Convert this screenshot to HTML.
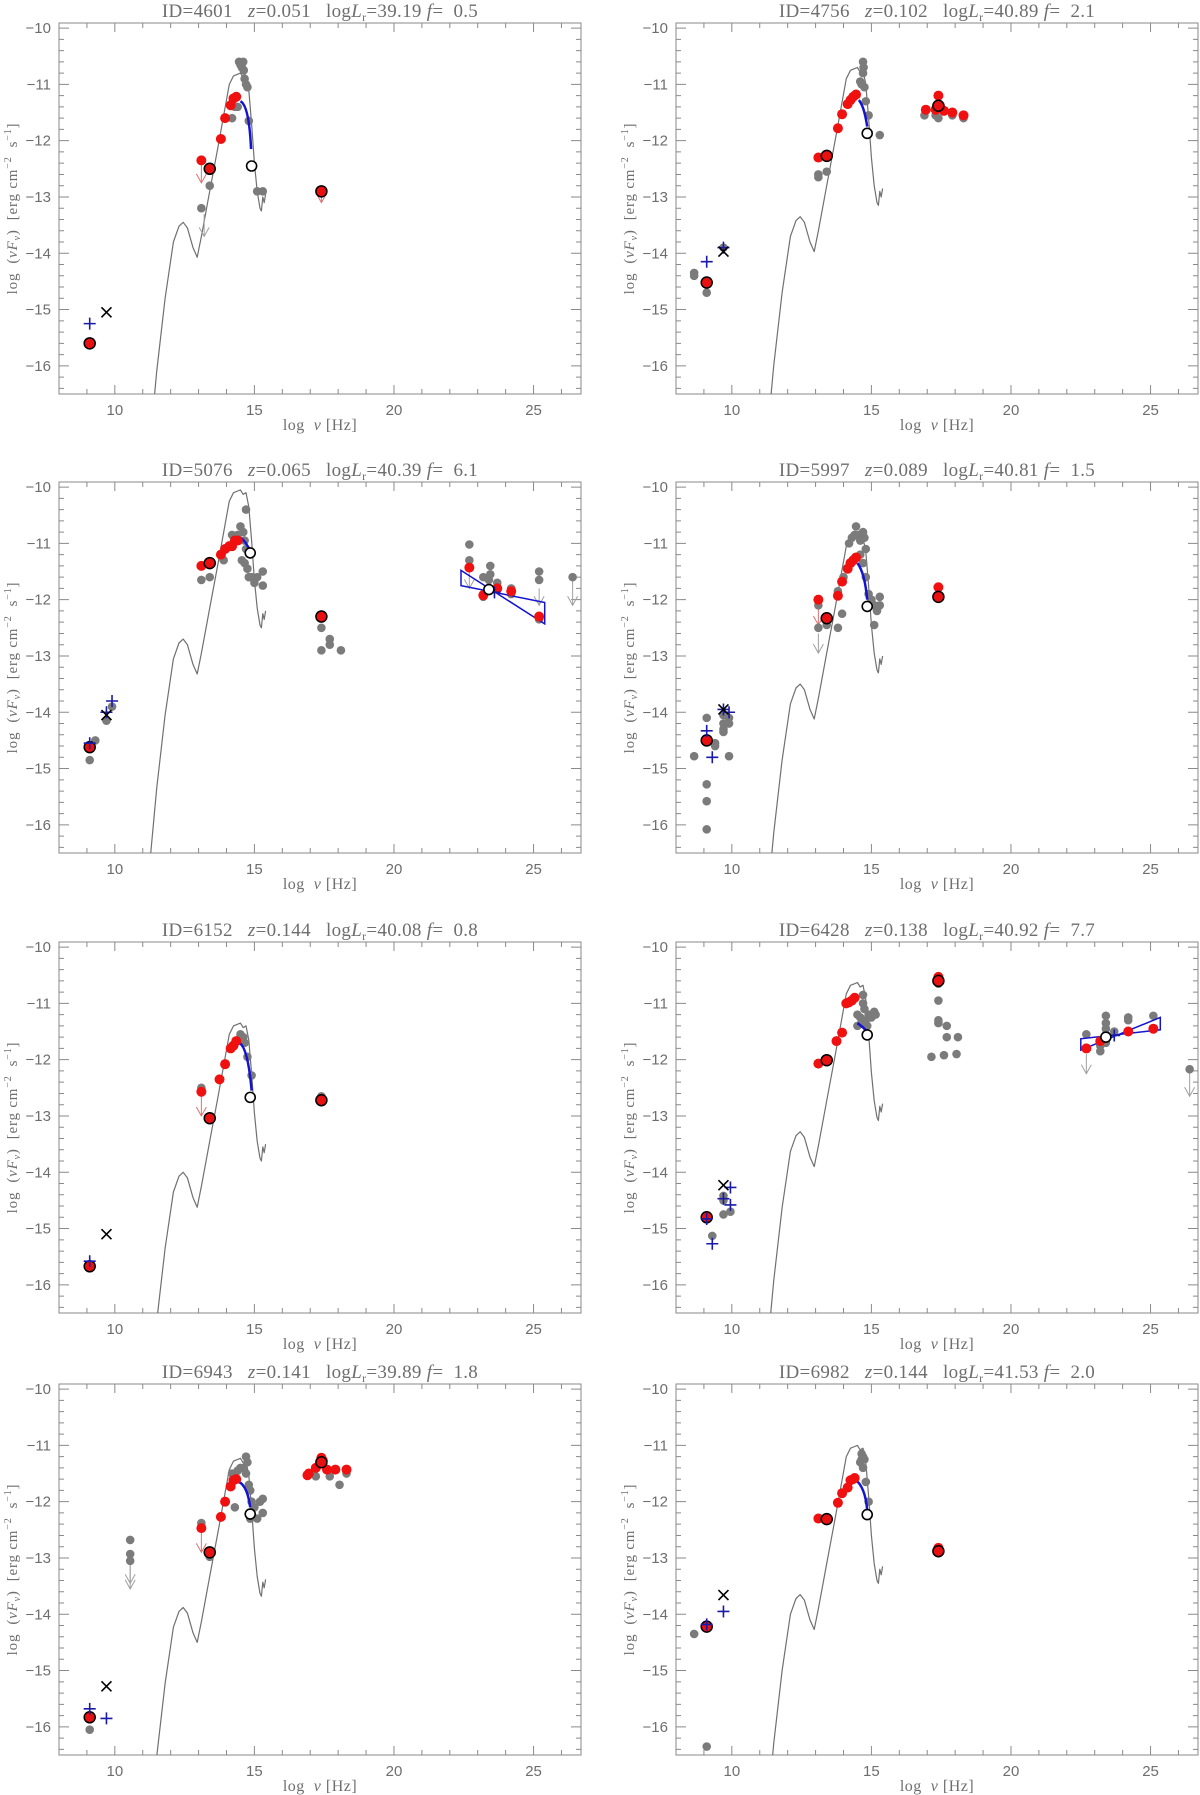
<!DOCTYPE html>
<html>
<head>
<meta charset="utf-8">
<style>
  html,body{margin:0;padding:0;background:#fff;overflow:hidden;}
  svg{display:block;}
  text{font-family:"Liberation Serif","DejaVu Serif",serif;fill:#6e6e6e;}
  text.tick{font-family:"Liberation Sans","DejaVu Sans",sans-serif;}
  text.ttl{white-space:pre;}
</style>
</head>
<body>
<svg id="chart" width="1200" height="1795" viewBox="0 0 1200 1795" xmlns="http://www.w3.org/2000/svg"></svg>
<script>
// ---------- shared axis data ----------
const xTickValues = [10, 15, 20, 25];
const yTickValues = [-10, -11, -12, -13, -14, -15, -16];
const XMIN = 8, XMAX = 26.7, YMIN = -16.5, YMAX = -9.91;

// template (galaxy) curve, relative to its peak value
const templateX = [11.0,11.5,11.8,12.1,12.3,12.45,12.6,12.8,12.95,13.1,13.4,13.7,13.9,14.1,14.25,14.4,14.5,14.6,14.7,14.8,14.9,15.0,15.1,15.2,15.25,15.3,15.35,15.4];
const templateRel = [-8,-5.3,-4.0,-3.0,-2.72,-2.65,-2.75,-3.1,-3.27,-2.9,-2.1,-1.3,-0.75,-0.2,-0.05,-0.02,0,-0.08,-0.05,-0.3,-0.9,-1.6,-2.1,-2.4,-2.45,-2.2,-2.3,-2.15];

// ---------- panel 1: ID 4601 ----------
const p1Peak = -10.8;
const p1Gray = [[14.45,-10.6],[14.5,-10.65],[14.55,-10.7],[14.6,-10.6],[14.62,-10.75],[14.65,-10.9],[14.7,-11.0],[14.75,-11.05],[14.8,-11.65],[14.3,-11.4],[14.4,-11.4],[14.2,-11.6],[15.3,-12.9],[13.4,-12.8],[13.1,-13.2],[15.1,-12.9]];
const p1Red = [[13.1,-12.35],[13.8,-11.97],[13.95,-11.6],[14.15,-11.37],[14.25,-11.25],[14.35,-11.22]];
const p1RedOut = [[9.1,-15.6],[13.4,-12.5],[17.4,-12.9]];
const p1Cross = [[9.1,-15.25]];
const p1X = [[9.7,-15.05]];
const p1Open = [[14.9,-12.45]];
const p1Blue = [[14.5,-11.3],[14.75,-11.55],[14.88,-12.15]];
const p1ArrowsRed = [[13.1,-12.4,-12.75],[17.4,-12.95,-13.1]];
const p1ArrowsGray = [[13.2,-13.3,-13.7]];
const p1Bowtie = [];

// ---------- panel 2: ID 4756 ----------
const p2Peak = -10.7;
const p2Gray = [[8.65,-14.35],[8.65,-14.4],[9.1,-14.7],[9.7,-13.9],[14.7,-10.6],[14.72,-10.7],[14.7,-10.8],[14.6,-10.95],[14.65,-11.0],[14.75,-11.05],[14.8,-11.3],[14.9,-11.55],[15.3,-11.9],[13.1,-12.6],[13.1,-12.65],[13.4,-12.55],[16.9,-11.55],[17.3,-11.55],[17.4,-11.6],[17.9,-11.55],[18.3,-11.6]];
const p2Red = [[13.1,-12.3],[13.8,-11.78],[13.95,-11.53],[14.15,-11.35],[14.25,-11.28],[14.35,-11.22],[14.45,-11.18],[16.95,-11.45],[17.3,-11.45],[17.4,-11.2],[17.45,-11.38],[17.6,-11.47],[17.9,-11.5],[18.3,-11.55],[17.35,-11.4]];
const p2RedOut = [[9.1,-14.52],[13.4,-12.27],[17.4,-11.38]];
const p2Cross = [[9.1,-14.15],[9.7,-13.9]];
const p2X = [[9.7,-13.97]];
const p2Open = [[14.85,-11.87]];
const p2Blue = [[14.55,-11.28],[14.72,-11.45],[14.85,-11.75]];
const p2ArrowsRed = [];
const p2ArrowsGray = [];
const p2Bowtie = [];

// ---------- panel 3: ID 5076 ----------
const p3Peak = -10.05;
const p3Gray = [[14.7,-10.4],[14.5,-10.7],[14.6,-10.8],[14.4,-10.85],[14.3,-10.9],[14.2,-10.85],[14.65,-10.95],[14.7,-11.1],[14.55,-11.3],[14.65,-11.35],[14.75,-11.45],[14.8,-11.6],[14.9,-11.6],[15.0,-11.7],[15.1,-11.6],[15.3,-11.5],[15.3,-11.75],[13.1,-11.65],[13.4,-11.6],[13.9,-11.3],[17.4,-12.5],[17.4,-12.9],[17.7,-12.7],[17.7,-12.8],[18.1,-12.9],[9.1,-14.85],[9.3,-14.5],[9.7,-14.15],[9.9,-13.9],[22.7,-11.02],[22.7,-11.3],[23.2,-11.95],[23.2,-11.6],[23.45,-11.4],[23.45,-11.55],[23.4,-11.65],[23.7,-11.7],[24.2,-11.8],[24.2,-11.9],[25.2,-11.5],[25.2,-11.65],[25.2,-12.35],[26.4,-11.6]];
const p3Red = [[13.1,-11.4],[13.8,-11.2],[13.95,-11.1],[14.1,-11.05],[14.2,-11.05],[14.3,-10.95],[14.4,-10.95],[22.7,-11.43],[23.2,-11.92],[23.7,-11.8],[24.2,-11.85],[25.2,-12.3]];
const p3RedOut = [[9.1,-14.62],[13.4,-11.35],[17.4,-12.3]];
const p3Cross = [[9.1,-14.55],[9.7,-14.0],[9.9,-13.8],[23.6,-11.87]];
const p3X = [[9.7,-14.05]];
const p3Open = [[14.85,-11.17],[23.4,-11.82]];
const p3Blue = [[14.5,-10.9],[14.7,-11.0],[14.85,-11.15]];
const p3ArrowsRed = [];
const p3ArrowsGray = [[26.4,-11.65,-12.1],[25.2,-11.8,-12.1],[22.7,-11.5,-11.8]];
const p3Bowtie = [[22.4,-11.48],[25.4,-12.43],[25.4,-12.05],[22.4,-11.75]];

// ---------- panel 4: ID 5997 ----------
const p4Peak = -10.85;
const p4Gray = [[8.65,-14.78],[9.1,-14.1],[9.1,-15.28],[9.1,-15.58],[9.1,-16.08],[9.4,-14.6],[9.4,-14.55],[9.7,-14.05],[9.7,-14.2],[9.7,-14.3],[9.7,-14.35],[9.9,-14.1],[9.9,-14.2],[9.9,-14.78],[13.1,-12.1],[13.1,-12.5],[13.4,-12.45],[13.8,-12.5],[13.8,-11.85],[14.0,-11.6],[13.95,-12.25],[14.2,-11.0],[14.3,-10.9],[14.4,-10.85],[14.45,-10.7],[14.55,-10.85],[14.6,-10.95],[14.7,-10.8],[14.75,-10.9],[14.8,-11.1],[14.6,-11.2],[14.7,-11.35],[14.8,-11.6],[14.9,-11.9],[15.0,-12.0],[15.1,-12.1],[15.2,-12.2],[15.3,-11.95],[15.3,-12.1],[15.1,-12.45]];
const p4Red = [[13.1,-12.0],[13.8,-11.93],[13.95,-11.68],[14.15,-11.45],[14.25,-11.35],[14.35,-11.3],[14.45,-11.25],[17.4,-11.78]];
const p4RedOut = [[9.1,-14.5],[13.4,-12.33],[17.4,-11.95]];
const p4Cross = [[9.1,-14.33],[9.3,-14.8],[9.7,-13.95],[9.9,-14.0]];
const p4X = [[9.7,-13.95]];
const p4Open = [[14.85,-12.12]];
const p4Blue = [[14.5,-11.35],[14.72,-11.6],[14.85,-12.0]];
const p4ArrowsRed = [[13.1,-12.05,-12.45]];
const p4ArrowsGray = [[13.1,-12.6,-12.95]];
const p4Bowtie = [];

// ---------- panel 5: ID 6152 ----------
const p5Peak = -11.35;
const p5Gray = [[14.5,-11.55],[14.6,-11.6],[14.65,-11.7],[14.75,-11.95],[14.9,-12.28],[13.1,-12.5],[17.4,-12.65]];
const p5Red = [[13.1,-12.57],[13.75,-12.35],[13.95,-12.08],[14.15,-11.8],[14.25,-11.75],[14.35,-11.67]];
const p5RedOut = [[9.1,-15.67],[13.4,-13.04],[17.4,-12.72]];
const p5Cross = [[9.1,-15.58]];
const p5X = [[9.7,-15.1]];
const p5Open = [[14.85,-12.67]];
const p5Blue = [[14.45,-11.7],[14.72,-11.95],[14.9,-12.55]];
const p5ArrowsRed = [[13.1,-12.6,-13.0]];
const p5ArrowsGray = [];
const p5Bowtie = [];

// ---------- panel 6: ID 6428 ----------
const p6Peak = -10.63;
const p6Gray = [[9.3,-15.13],[9.7,-14.42],[9.7,-14.5],[9.7,-14.75],[9.95,-14.7],[14.5,-11.4],[14.5,-11.2],[14.6,-11.25],[14.7,-10.85],[14.7,-11.0],[14.75,-11.1],[14.8,-11.3],[14.85,-11.4],[14.9,-11.2],[15.0,-11.25],[15.1,-11.15],[15.15,-11.2],[14.65,-11.35],[17.4,-10.65],[17.4,-10.95],[17.4,-11.3],[17.4,-11.35],[17.7,-11.4],[17.7,-11.6],[18.1,-11.6],[17.15,-11.95],[17.6,-11.92],[18.05,-11.9],[22.7,-11.55],[23.2,-11.85],[23.2,-11.75],[23.4,-11.22],[23.4,-11.35],[23.4,-11.45],[23.4,-11.55],[23.4,-11.7],[23.7,-11.5],[24.2,-11.25],[24.2,-11.3],[25.1,-11.22],[26.4,-12.17]];
const p6Red = [[13.1,-12.07],[13.75,-11.67],[13.95,-11.52],[14.1,-11.0],[14.2,-10.98],[14.3,-10.95],[14.4,-10.9],[17.4,-10.53],[22.7,-11.8],[23.2,-11.67],[24.2,-11.5],[25.1,-11.45]];
const p6RedOut = [[9.1,-14.8],[13.4,-12.01],[17.4,-10.6]];
const p6Cross = [[9.1,-14.83],[9.3,-15.27],[9.7,-14.47],[9.95,-14.27],[9.95,-14.58],[23.7,-11.57]];
const p6X = [[9.7,-14.23]];
const p6Open = [[14.85,-11.56],[23.4,-11.6]];
const p6Blue = [[14.5,-11.35],[14.68,-11.42],[14.85,-11.5]];
const p6ArrowsRed = [];
const p6ArrowsGray = [[22.7,-11.9,-12.25],[26.4,-12.2,-12.65]];
const p6Bowtie = [[22.5,-11.83],[25.35,-11.25],[25.35,-11.47],[22.5,-11.63]];

// ---------- panel 7: ID 6943 ----------
const p7Peak = -11.23;
const p7Gray = [[9.1,-16.05],[10.55,-12.68],[10.55,-12.93],[10.55,-13.05],[14.2,-11.5],[14.3,-11.55],[14.3,-12.1],[14.4,-11.45],[14.5,-11.4],[14.6,-11.4],[14.7,-11.2],[14.75,-11.3],[14.7,-11.5],[14.8,-11.7],[14.85,-11.8],[14.9,-12.0],[15.0,-12.1],[15.1,-12.3],[15.2,-12.0],[15.3,-11.95],[15.3,-12.2],[14.85,-12.3],[13.1,-12.38],[13.4,-12.98],[17.2,-11.55],[17.7,-11.55],[18.05,-11.7],[18.3,-11.5]];
const p7Red = [[13.1,-12.47],[13.8,-12.27],[13.95,-12.0],[14.15,-11.73],[14.25,-11.62],[14.35,-11.6],[16.9,-11.53],[17.2,-11.4],[17.4,-11.22],[17.45,-11.27],[17.6,-11.43],[17.9,-11.43],[18.3,-11.43],[16.95,-11.5]];
const p7RedOut = [[9.1,-15.83],[13.4,-12.9],[17.4,-11.3]];
const p7Cross = [[9.1,-15.68],[9.7,-15.85]];
const p7X = [[9.7,-15.28]];
const p7Open = [[14.85,-12.22]];
const p7Blue = [[14.45,-11.65],[14.7,-11.8],[14.85,-12.1]];
const p7ArrowsRed = [[13.1,-12.5,-12.9]];
const p7ArrowsGray = [[10.55,-13.1,-13.55],[10.55,-13.05,-13.45]];
const p7Bowtie = [];

// ---------- panel 8: ID 6982 ----------
const p8Peak = -11.0;
const p8Gray = [[8.65,-14.35],[9.1,-16.35],[14.65,-11.15],[14.7,-11.2],[14.75,-11.25],[14.6,-11.3],[14.7,-11.4],[14.8,-11.65],[14.9,-12.0],[14.65,-11.25]];
const p8Red = [[13.1,-12.3],[13.8,-12.02],[13.95,-11.85],[14.15,-11.75],[14.25,-11.62],[14.35,-11.6],[14.4,-11.58],[17.4,-12.82]];
const p8RedOut = [[9.1,-14.22],[13.4,-12.31],[17.4,-12.88]];
const p8Cross = [[9.1,-14.18],[9.7,-13.95]];
const p8X = [[9.7,-13.66]];
const p8Open = [[14.85,-12.23]];
const p8Blue = [[14.4,-11.6],[14.7,-11.8],[14.85,-12.15]];
const p8ArrowsRed = [];
const p8ArrowsGray = [];
const p8Bowtie = [];

// panel titles
const panelIds = ["4601","4756","5076","5997","6152","6428","6943","6982"];
const panelZ = ["0.051","0.102","0.065","0.089","0.144","0.138","0.141","0.144"];
const panelL = ["39.19","40.89","40.39","40.81","40.08","40.92","39.89","41.53"];
const panelF = ["0.5","2.1","6.1","1.5","0.8","7.7","1.8","2.0"];

const panels = [
 {peak:p1Peak,gray:p1Gray,red:p1Red,redOut:p1RedOut,cross:p1Cross,xm:p1X,open:p1Open,blue:p1Blue,ar:p1ArrowsRed,ag:p1ArrowsGray,bow:p1Bowtie},
 {peak:p2Peak,gray:p2Gray,red:p2Red,redOut:p2RedOut,cross:p2Cross,xm:p2X,open:p2Open,blue:p2Blue,ar:p2ArrowsRed,ag:p2ArrowsGray,bow:p2Bowtie},
 {peak:p3Peak,gray:p3Gray,red:p3Red,redOut:p3RedOut,cross:p3Cross,xm:p3X,open:p3Open,blue:p3Blue,ar:p3ArrowsRed,ag:p3ArrowsGray,bow:p3Bowtie},
 {peak:p4Peak,gray:p4Gray,red:p4Red,redOut:p4RedOut,cross:p4Cross,xm:p4X,open:p4Open,blue:p4Blue,ar:p4ArrowsRed,ag:p4ArrowsGray,bow:p4Bowtie},
 {peak:p5Peak,gray:p5Gray,red:p5Red,redOut:p5RedOut,cross:p5Cross,xm:p5X,open:p5Open,blue:p5Blue,ar:p5ArrowsRed,ag:p5ArrowsGray,bow:p5Bowtie},
 {peak:p6Peak,gray:p6Gray,red:p6Red,redOut:p6RedOut,cross:p6Cross,xm:p6X,open:p6Open,blue:p6Blue,ar:p6ArrowsRed,ag:p6ArrowsGray,bow:p6Bowtie},
 {peak:p7Peak,gray:p7Gray,red:p7Red,redOut:p7RedOut,cross:p7Cross,xm:p7X,open:p7Open,blue:p7Blue,ar:p7ArrowsRed,ag:p7ArrowsGray,bow:p7Bowtie},
 {peak:p8Peak,gray:p8Gray,red:p8Red,redOut:p8RedOut,cross:p8Cross,xm:p8X,open:p8Open,blue:p8Blue,ar:p8ArrowsRed,ag:p8ArrowsGray,bow:p8Bowtie}
];

const colLeft = [59, 676];
const rowTop = [23, 482, 942, 1384];
const PW = 522, PH = 371;
const NS = "http://www.w3.org/2000/svg";
const svg = document.getElementById('chart');

function mk(tag, attrs, parent){
  const e = document.createElementNS(NS, tag);
  for (const k in attrs) e.setAttribute(k, attrs[k]);
  parent.appendChild(e);
  return e;
}

panels.forEach((p, i) => {
  const L = colLeft[i % 2], T = rowTop[Math.floor(i / 2)];
  const sx = v => L + (v - XMIN) / (XMAX - XMIN) * PW;
  const sy = v => T + (YMAX - v) / (YMAX - YMIN) * PH;

  const g = mk('g', {}, svg);
  
  

  const cp = mk('clipPath', {id: 'clip' + i}, g);
  mk('rect', {x: L, y: T, width: PW, height: PH}, cp);

  const frame = mk('rect', {x: L, y: T, width: PW, height: PH, fill: 'none', stroke: '#8a8a8a', 'stroke-width': 1}, g);
  
  

  let td = '';
  for (let v = 8; v <= 26.7; v += 1) {
    const x = sx(v), len = (v % 5 === 0) ? 9 : 5;
    td += `M${x},${T + PH}v${-len}M${x},${T}v${len}`;
  }
  for (let k = 0; k <= 33; k++) {
    const v = -16.4 + k * 0.2;
    if (v > YMAX) break;
    const y = sy(v), major = Math.abs(v - Math.round(v)) < 0.01, len = major ? 10 : 5;
    td += `M${L},${y}h${len}M${L + PW},${y}h${-len}`;
  }
  const ticks = mk('path', {d: td, stroke: '#8a8a8a', 'stroke-width': 1, fill: 'none'}, g);
  
  

  xTickValues.forEach(v => {
    const t = mk('text', {x: sx(v), y: T + PH + 21, 'text-anchor': 'middle', 'font-size': 15, class: 'tick'}, g);
    t.textContent = String(v);
    
    
  });
  yTickValues.forEach(v => {
    const t = mk('text', {x: L - 8, y: sy(v) + 5, 'text-anchor': 'end', 'font-size': 15, class: 'tick'}, g);
    t.textContent = '\u2212' + String(-v);
    
    
  });

  const xt = mk('text', {x: L + PW / 2, y: T + PH + 36, 'text-anchor': 'middle', 'font-size': 16, 'letter-spacing': '0.5'}, g);
  xt.innerHTML = 'log  <tspan font-style="italic">ν</tspan> [Hz]';
  xt.setAttribute('class', 'ttl');
  
  
  const yt = mk('text', {x: 0, y: 0, 'text-anchor': 'middle', 'font-size': 15, 'letter-spacing': '0.8', transform: `translate(${L - 42},${T + PH / 2}) rotate(-90)`}, g);
  yt.setAttribute('class', 'ttl');
  yt.innerHTML = 'log  (<tspan font-style="italic">νF</tspan><tspan font-size="10" dy="3" font-style="italic">ν</tspan><tspan dy="-3">)  [erg cm</tspan><tspan font-size="10" dy="-6">−2</tspan><tspan dy="6">  s</tspan><tspan font-size="10" dy="-6">−1</tspan><tspan dy="6">]</tspan>';
  
  

  const tt = mk('text', {x: L + PW / 2, y: T - 6, 'text-anchor': 'middle', 'font-size': 19, 'letter-spacing': '0.3'}, g);
  tt.setAttribute('class', 'ttl');
  tt.innerHTML = `ID=${panelIds[i]}   <tspan font-style="italic">z</tspan>=${panelZ[i]}   log<tspan font-style="italic">L</tspan><tspan font-size="12" dy="4">r</tspan><tspan dy="-4">=${panelL[i]} </tspan><tspan font-style="italic">f</tspan>=  ${panelF[i]}`;
  
  

  const cg = mk('g', {'clip-path': `url(#clip${i})`}, g);

  let d = '';
  templateX.forEach((xv, k) => { d += (k ? 'L' : 'M') + sx(xv).toFixed(1) + ',' + sy(p.peak + templateRel[k]).toFixed(1); });
  const tc = mk('path', {d, fill: 'none', stroke: '#707070', 'stroke-width': 1.2, 'stroke-linejoin': 'round'}, cg);
  
  

  function arrow(a, col, name) {
    const x = sx(a[0]), y1 = sy(a[1]), y2 = sy(a[2]);
    const ar = mk('path', {d: `M${x},${y1}L${x},${y2}M${x - 5},${y2 - 9}L${x},${y2}L${x + 5},${y2 - 9}`, stroke: col, 'stroke-width': 1, fill: 'none'}, cg);
    
    
  }
  p.ag.forEach(a => arrow(a, '#a0a0a0', 'upper-limit-arrow'));
  p.ar.forEach(a => arrow(a, '#e07070', 'upper-limit-arrow'));

  p.gray.forEach(pt => {
    const c = mk('circle', {cx: sx(pt[0]), cy: sy(pt[1]), r: 4.3, fill: '#7b7b7b'}, cg);
    
    
  });

  if (p.bow.length) {
    const pts = p.bow.map(q => sx(q[0]).toFixed(1) + ',' + sy(q[1]).toFixed(1)).join(' ');
    const bw = mk('polygon', {points: pts, fill: 'none', stroke: '#1414d0', 'stroke-width': 1.5}, cg);
    
    
  }

  const b = p.blue;
  const bc = mk('path', {d: `M${sx(b[0][0])},${sy(b[0][1])}Q${2 * sx(b[1][0]) - (sx(b[0][0]) + sx(b[2][0])) / 2},${2 * sy(b[1][1]) - (sy(b[0][1]) + sy(b[2][1])) / 2} ${sx(b[2][0])},${sy(b[2][1])}`, fill: 'none', stroke: '#1414d0', 'stroke-width': 2.5}, cg);
  
  

  p.red.forEach(pt => {
    const c = mk('circle', {cx: sx(pt[0]), cy: sy(pt[1]), r: 5, fill: '#f01010'}, cg);
    
    
  });
  p.redOut.forEach(pt => {
    const c = mk('circle', {cx: sx(pt[0]), cy: sy(pt[1]), r: 5.5, fill: '#e81010', stroke: '#000', 'stroke-width': 1.5}, cg);
    
    
  });

  p.cross.forEach(pt => {
    const x = sx(pt[0]), y = sy(pt[1]);
    const c = mk('path', {d: `M${x - 6},${y}h12M${x},${y - 6}v12`, stroke: '#1a1aa8', 'stroke-width': 1.6}, cg);
    
    
  });
  p.xm.forEach(pt => {
    const x = sx(pt[0]), y = sy(pt[1]);
    const c = mk('path', {d: `M${x - 5},${y - 5}L${x + 5},${y + 5}M${x - 5},${y + 5}L${x + 5},${y - 5}`, stroke: '#000', 'stroke-width': 1.6}, cg);
    
    
  });
  p.open.forEach(pt => {
    const c = mk('circle', {cx: sx(pt[0]), cy: sy(pt[1]), r: 5, fill: '#fff', stroke: '#000', 'stroke-width': 1.6}, cg);
    
    
  });
});
</script>
</body>
</html>
